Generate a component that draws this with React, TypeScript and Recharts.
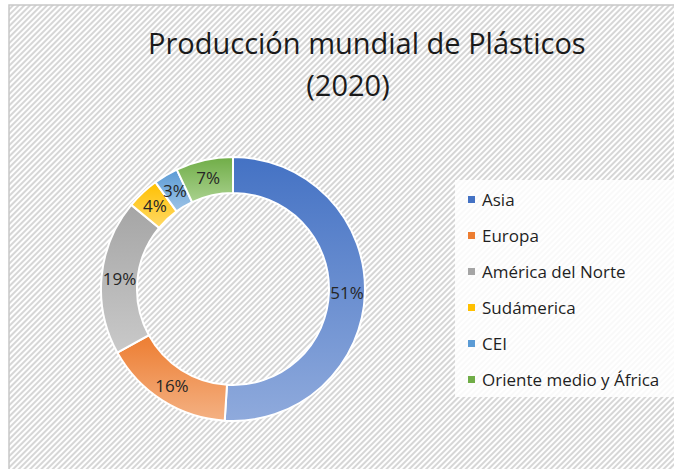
import React from "react";
import { PieChart, Pie, Cell, Legend } from "recharts";

const regions = ["Asia", "Europa", "América del Norte", "Sudámerica", "CEI", "Oriente medio y África"];
const shares = [51, 16, 19, 4, 3, 7];
const topColors = ["#4472C4", "#ED7D31", "#A5A5A5", "#FFC000", "#5B9BD5", "#70AD47"];
const bottomColors = ["#8FAADC", "#F4B183", "#C9C9C9", "#FFD966", "#9DC3E6", "#A9D18E"];
const titleLines = ["Producción mundial de Plásticos", "(2020)"];

const data = regions.map((name, i) => ({ name, value: shares[i] }));

const FONT = "'Open Sans', 'Noto Sans', sans-serif";
const RAD = Math.PI / 180;

const renderLabel = (props: any) => {
    const { cx, cy, midAngle, innerRadius, outerRadius, percent } = props;
    const r = (innerRadius + outerRadius) / 2;
    const x = cx + r * Math.cos(-midAngle * RAD);
    const y = cy + r * Math.sin(-midAngle * RAD);
    return (
        <text x={x} y={y} fill="#262626" fontSize={17} fontFamily={FONT} textAnchor="middle" dominantBaseline="central">
            {`${Math.round(percent * 100)}%`}
        </text>
    );
};

const renderLegend = () => (
    <div style={{ background: "rgba(255,255,255,0.85)", width: 240, height: 217, paddingTop: 1, boxSizing: "border-box" }}>
        {regions.map((name, i) => (
            <div key={name} style={{ display: "flex", alignItems: "center", height: 36, paddingLeft: 13 }}>
                <span style={{ width: 7, height: 7, background: topColors[i], marginRight: 7, display: "inline-block" }} />
                <span style={{ fontFamily: FONT, fontSize: 17, color: "#1f1f1f" }}>{name}</span>
            </div>
        ))}
    </div>
);

export default function App() {
    return (
        <div style={{ position: "absolute", left: 0, top: 0, width: 674, height: 469, overflow: "hidden", background: "#fff" }}>
            <svg width={674} height={469} style={{ position: "absolute", left: 0, top: 0 }}>
                <defs>
                    <pattern id="stripes" width="4" height="4" patternUnits="userSpaceOnUse" patternTransform="rotate(45)">
                        <rect width="4" height="4" fill="#ffffff" />
                        <rect width="2" height="4" fill="#d6d6d6" />
                    </pattern>
                </defs>
                <rect x={9} y={5} width={680} height={480} fill="url(#stripes)" stroke="#c8c8c8" strokeWidth={1.5} />
            </svg>
            <div style={{ position: "absolute", left: 148, top: 22, width: 400, textAlign: "center", fontFamily: FONT, fontSize: 29, lineHeight: "42px", color: "#1a1a1a", whiteSpace: "nowrap" }}>
                {titleLines.map((t) => (
                    <div key={t}>{t}</div>
                ))}
            </div>
            <div style={{ position: "absolute", left: 0, top: 0 }}>
                <PieChart width={674} height={469}>
                    <defs>
                        {topColors.map((c, i) => (
                            <linearGradient key={c} id={`grad${i}`} x1="0" y1="0" x2="0" y2="1">
                                <stop offset="0%" stopColor={c} />
                                <stop offset="100%" stopColor={bottomColors[i]} />
                            </linearGradient>
                        ))}
                    </defs>
                    <Pie
                        data={data}
                        dataKey="value"
                        nameKey="name"
                        cx={228}
                        cy={284}
                        innerRadius={96}
                        outerRadius={132}
                        startAngle={90}
                        endAngle={-270}
                        stroke="#ffffff"
                        strokeWidth={2}
                        label={renderLabel}
                        labelLine={false}
                        isAnimationActive={false}
                    >
                        {data.map((d, i) => (
                            <Cell key={d.name} fill={`url(#grad${i})`} />
                        ))}
                    </Pie>
                    <Legend content={renderLegend} wrapperStyle={{ left: 455, top: 180, width: 240, height: 217 }} />
                </PieChart>
            </div>
        </div>
    );
}
